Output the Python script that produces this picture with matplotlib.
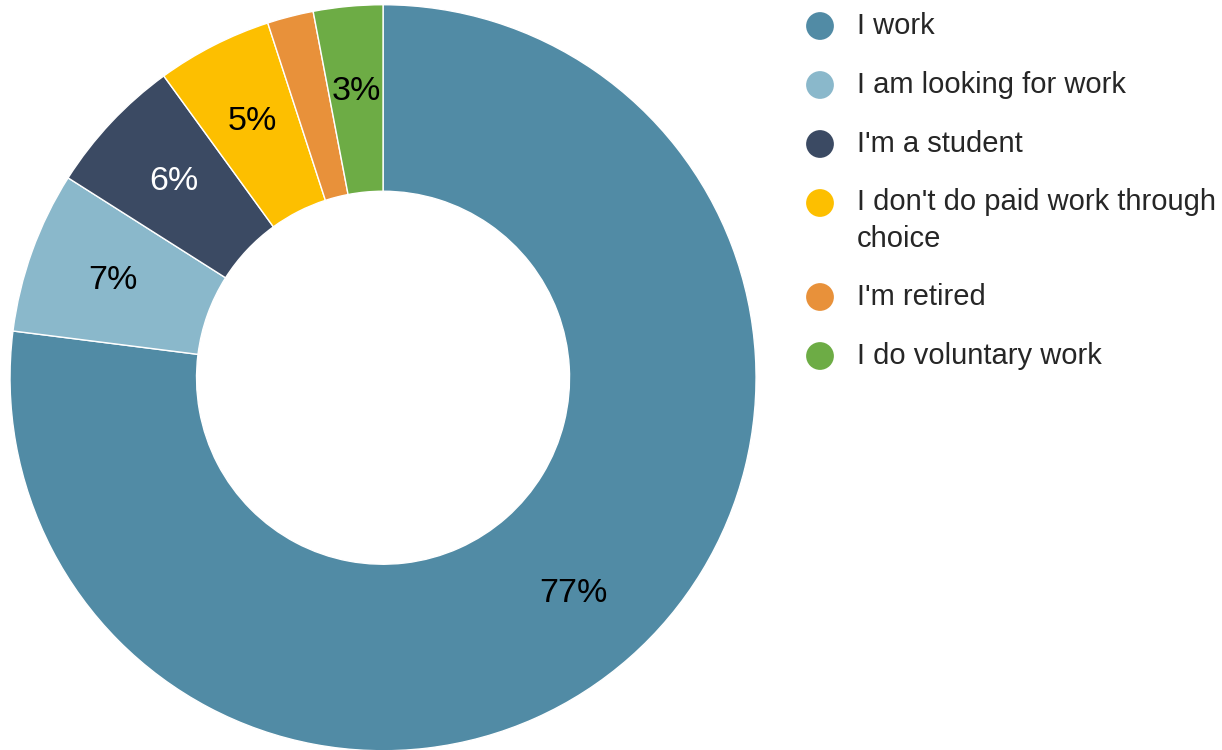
import matplotlib.pyplot as plt

plt.rcParams['font.family'] = ['Liberation Sans', 'DejaVu Sans']

labels = ["I work", "I am looking for work", "I'm a student",
          "I don't do paid work through\nchoice", "I'm retired", "I do voluntary work"]
values = [77, 7, 6, 5, 2, 3]
colors = ['#518ba5', '#8ab8cb', '#3b4a63', '#fdbf00', '#e8913a', '#6dac45']
label_colors = ['black', 'black', 'white', 'black', 'black', 'black']


def pct_label(p):
    # the smallest slice has no label
    return '%d%%' % round(p) if p > 2.5 else ''


fig = plt.figure(figsize=(12.22, 7.5), dpi=100)
ax = fig.add_axes([0.0082, -0.001, 0.6105, 0.9947])

wedges, texts, autotexts = ax.pie(values, colors=colors, startangle=90, counterclock=False,
                                  autopct=pct_label, pctdistance=0.77, radius=1,
                                  wedgeprops=dict(width=0.5, edgecolor='white', linewidth=1),
                                  textprops=dict(fontsize=24.5))
for t, c in zip(autotexts, label_colors):
    t.set_color(c)
ax.set_xlim(-1, 1)
ax.set_ylim(-1, 1)
ax.set_aspect('equal')
ax.axis('off')

# legend drawn by hand in pixel coords so the marker sits on the first line
lax = fig.add_axes([0, 0, 1, 1])
lax.set_xlim(0, 1222)
lax.set_ylim(750, 0)
lax.axis('off')
y = 26
for lab, c in zip(labels, colors):
    n = lab.count('\n')
    lax.scatter([820], [y], s=400, color=c, edgecolors='none')
    lax.text(857, y + n * 35 / 2, lab, fontsize=21, color='#262626',
             va='center', ha='left', linespacing=1.45)
    y += 59 + n * 35

fig.savefig('out.png', dpi=100)
